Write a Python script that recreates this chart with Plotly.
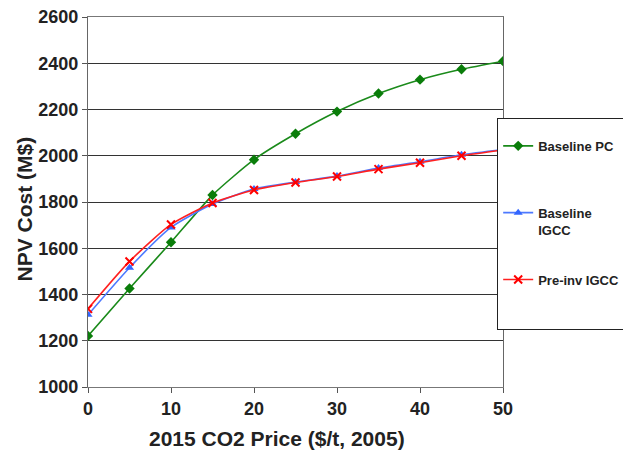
import plotly.graph_objects as go

co2_price = [0, 5, 10, 15, 20, 25, 30, 35, 40, 45, 50]
baseline_pc = [1221, 1426, 1626, 1830, 1983, 2095, 2191, 2269, 2329, 2374, 2409]
baseline_igcc = [1312, 1516, 1690, 1791, 1856, 1886, 1912, 1947, 1974, 2004, 2027]
preinv_igcc = [1338, 1543, 1703, 1796, 1852, 1884, 1910, 1942, 1970, 2000, 2025]

y_ticks = [1000, 1200, 1400, 1600, 1800, 2000, 2200, 2400, 2600]
x_ticks = [0, 10, 20, 30, 40, 50]

FONT = "Liberation Sans, Arial, sans-serif"
TXT = "#222222"

fig = go.Figure()
fig.add_trace(go.Scatter(
    x=co2_price, y=baseline_pc, name="Baseline PC<br> ", mode="lines+markers",
    line=dict(color="#1a8a1a", width=1.6, shape="spline", smoothing=0.6),
    marker=dict(symbol="diamond", size=8, color="#0a7d0a"),
    legendgroup="a"))
fig.add_trace(go.Scatter(
    x=co2_price, y=baseline_igcc, name="Baseline<br>IGCC", mode="lines+markers",
    line=dict(color="#4d79ff", width=1.6, shape="spline", smoothing=0.6),
    marker=dict(symbol="triangle-up", size=8, color="#3366ff"),
    legendgroup="b"))
fig.add_trace(go.Scatter(
    x=co2_price, y=preinv_igcc,
    name="Pre-inv IGCC<br> <br> ",
    mode="lines+markers",
    line=dict(color="#ff2020", width=1.6, shape="spline", smoothing=0.6),
    marker=dict(symbol="x-thin", size=8, color="#ff0000",
                line=dict(color="#ff0000", width=2)),
    legendgroup="c"))

fig.update_layout(
    width=623, height=452,
    margin=dict(l=88, r=120, t=17, b=65, autoexpand=False),
    paper_bgcolor="white", plot_bgcolor="white",
    font=dict(family=FONT, color=TXT),
    showlegend=True,
    legend=dict(
        x=0.9855, y=0.727, xanchor="left", yanchor="top",
        bordercolor="#222222", borderwidth=1.2, bgcolor="white",
        font=dict(family=FONT, size=13, color=TXT, weight="bold"),
        title=dict(text=" ", font=dict(size=9)),
        traceorder="grouped", tracegroupgap=30, valign="top",
        itemwidth=30),
    xaxis=dict(
        range=[0, 50], tickvals=x_ticks, showgrid=False, zeroline=False,
        showline=True, linecolor="#777777", linewidth=1, mirror=True,
        ticks="outside", ticklen=5, tickcolor="#555555",
        tickfont=dict(family=FONT, size=18, color=TXT, weight="bold")),
    yaxis=dict(
        range=[1000, 2600], tickvals=y_ticks, showgrid=True,
        gridcolor="#333333", gridwidth=1, zeroline=False,
        showline=True, linecolor="#666666", linewidth=1.2, mirror=True,
        ticks="outside", ticklen=5, tickcolor="#555555",
        tickfont=dict(family=FONT, size=18, color=TXT, weight="bold")),
    annotations=[
        dict(text="2015 CO2 Price ($/t, 2005)", xref="paper", yref="paper",
             x=0.4566, y=-0.1405, xanchor="center", yanchor="middle",
             showarrow=False,
             font=dict(family=FONT, size=21, color=TXT, weight="bold")),
        dict(text="NPV Cost (M$)", xref="paper", yref="paper",
             x=-0.153, y=0.481, xanchor="center", yanchor="middle",
             textangle=-90, showarrow=False,
             font=dict(family=FONT, size=21, color=TXT, weight="bold")),
    ],
)

fig.write_html("out.html",
               config={"displayModeBar": False},
               post_script="document.body.style.margin='0px';"
                           "document.body.style.overflow='hidden';")
